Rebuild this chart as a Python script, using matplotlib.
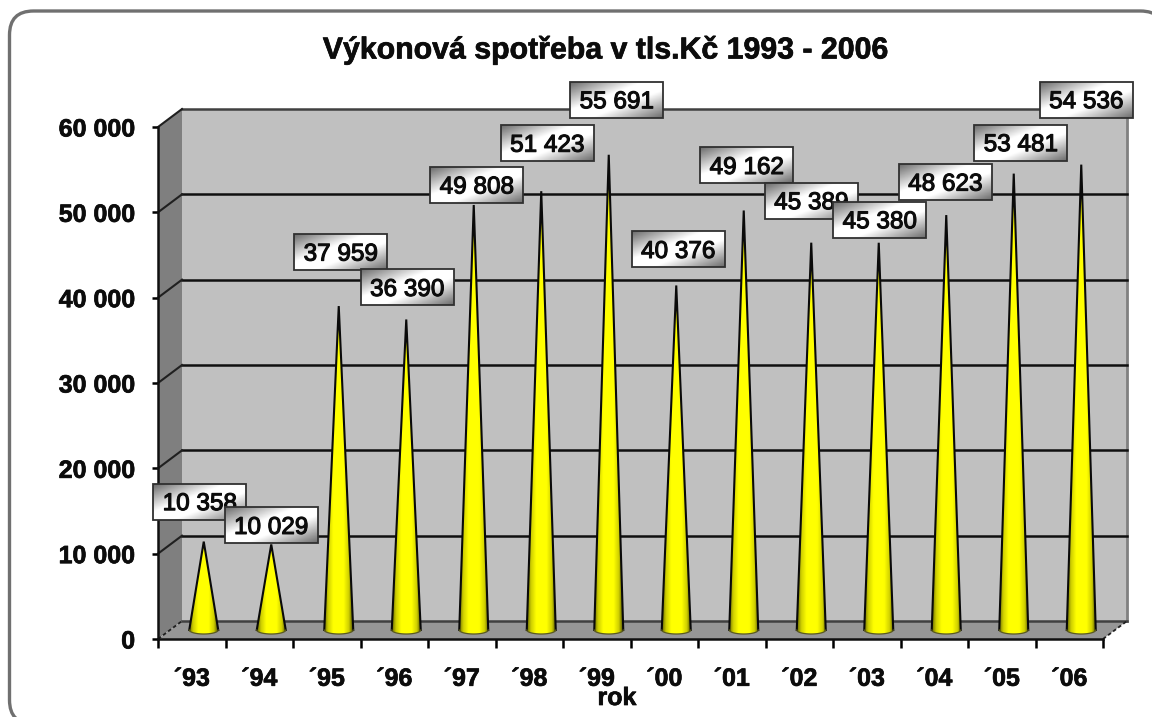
import numpy as np
import matplotlib
matplotlib.use("Agg")
import matplotlib.pyplot as plt
from matplotlib.patches import Polygon, FancyBboxPatch, Rectangle
import matplotlib.patheffects as pe
from matplotlib.colors import to_rgb

years = ["´93", "´94", "´95", "´96", "´97", "´98", "´99", "´00", "´01", "´02", "´03", "´04", "´05", "´06"]
values = [10358, 10029, 37959, 36390, 49808, 51423, 55691, 40376, 49162, 45389, 45380, 48623, 53481, 54536]
value_labels = ["10 358", "10 029", "37 959", "36 390", "49 808", "51 423", "55 691",
                "40 376", "49 162", "45 389", "45 380", "48 623", "53 481", "54 536"]
y_ticks = [0, 10000, 20000, 30000, 40000, 50000, 60000]
y_labels = ["0", "10 000", "20 000", "30 000", "40 000", "50 000", "60 000"]

# where each label box sits relative to the cone tip, in pixels
label_dx = [-4, 0, 2, 1, 3, 6, 8, 2, 3, 0, 1, -1, 7, 5]
label_dy = [40, 19, 54, 32, 20, 48, 55, 36, 45, 42, 23, 33, 31, 65]

W, H = 1152, 717
left, right, top, bottom = 158, 1103, 127, 639
font = "Liberation Sans"
ink = "#0c0c0c"
bold_edge = [pe.withStroke(linewidth=0.5, foreground=ink)]

fig = plt.figure(figsize=(W / 100, H / 100), dpi=100, facecolor="white")

# rounded frame round the whole chart, runs off the right and bottom edge
bg = fig.add_axes([0, 0, 1, 1])
bg.set_xlim(0, W)
bg.set_ylim(H, 0)
bg.axis("off")
bg.add_patch(FancyBboxPatch((9.5, 11), 1155, 713, boxstyle="round,pad=0,rounding_size=24",
                            fc="white", ec="#707070", lw=2.4))

ax = fig.add_axes([left / W, 1 - bottom / H, (right - left) / W, (bottom - top) / H])
ax.patch.set_alpha(0)
xlim = (0, len(years))
ylim = (0, 60000)
px_x = (right - left) / len(years)
px_y = (bottom - top) / 60000
dx = 24 / px_x  # depth of the 3d box
dy = 18 / px_y

# walls and floor
ax.add_patch(Polygon([(dx, dy), (xlim[1] + dx, dy), (xlim[1] + dx, 60000 + dy), (dx, 60000 + dy)],
                     fc="#c0c0c0", ec="none", zorder=1, clip_on=False))
ax.add_patch(Polygon([(0, 0), (dx, dy), (dx, 60000 + dy), (0, 60000)],
                     fc="#7f7f7f", ec="none", zorder=1, clip_on=False))
ax.add_patch(Polygon([(0, 0), (xlim[1], 0), (xlim[1] + dx, dy), (dx, dy)],
                     fc="#969696", ec="none", zorder=1, clip_on=False))
ax.plot([xlim[1] + dx, xlim[1] + dx], [dy, 60000 + dy], color="#808080", lw=2, zorder=2, clip_on=False)

for t in y_ticks:
    col = "#404040" if t in (0, 60000) else "#101010"
    ax.plot([dx, xlim[1] + dx], [t + dy, t + dy], color=col, lw=1.8, zorder=2, clip_on=False)
    if t == 0:
        ax.plot([0, dx], [t, t + dy], color="#202020", lw=1.3, ls=(0, (2, 1.5)), zorder=2, clip_on=False)
        ax.plot([xlim[1], xlim[1] + dx], [t, t + dy], color="#202020", lw=1.3, ls=(0, (2, 1.5)), zorder=2, clip_on=False)
    else:
        ax.plot([0, dx], [t, t + dy], color="#202020", lw=1.5, zorder=2, clip_on=False)

# shading across a cone, edge to edge
stops = np.array([0, 0.14, 0.32, 0.68, 0.86, 1])
r = np.array([to_rgb(c) for c in ["#6e6e00", "#d0d000", "#ffff00", "#ffff00", "#d0d000", "#5c5c00"]])
u = np.linspace(0, 1, 64)
grad = np.stack([np.interp(u, stops, r[:, k]) for k in range(3)], axis=1)[None, :, :]

half_w = 14.5 / px_x
half_h = 4.0 / px_y
base_y = dy / 2
t = np.linspace(np.pi, 2 * np.pi, 40)
for i, v in enumerate(values):
    cx = i + 0.5 + dx / 2
    tip_y = base_y + v
    arc_x = cx + half_w * np.cos(t)
    arc_y = base_y + half_h * np.sin(t)
    outline = np.c_[np.r_[cx, arc_x], np.r_[tip_y, arc_y]]
    im = ax.imshow(grad, extent=(cx - half_w, cx + half_w, base_y - half_h, tip_y),
                   aspect="auto", zorder=3, interpolation="bilinear")
    cone = Polygon(outline, closed=True, fc="none", ec="none", zorder=3, clip_on=False)
    ax.add_patch(cone)
    im.set_clip_path(cone)
    # sides heavy, base lighter
    ax.plot([arc_x[0], cx, arc_x[-1]], [arc_y[0], tip_y, arc_y[-1]], color="#0a0a0a", lw=1.5,
            zorder=3.1, clip_on=False, solid_joinstyle="miter")
    ax.plot(arc_x, arc_y, color="#5a5a20", lw=0.9, zorder=3.1, clip_on=False)

# value labels, grey in two opposite corners with a white band between
n = 60
uu, vv = np.meshgrid(np.linspace(0, 1, n), np.linspace(0, 1, n))
d = np.abs(uu + vv - 1)
box_fill = 1 - np.clip(d - 0.22, 0, 1) / 0.78 * 0.58
box_w = 93 / px_x
box_h = 36 / px_y
for i, v in enumerate(values):
    cx = i + 0.5 + dx / 2 + label_dx[i] / px_x
    cy = base_y + v + label_dy[i] / px_y
    z = 5 + i * 0.1
    ext = (cx - box_w / 2, cx + box_w / 2, cy - box_h / 2, cy + box_h / 2)
    ax.imshow(box_fill, extent=ext, cmap="gray", vmin=0, vmax=1, aspect="auto", zorder=z,
              clip_on=False, origin="upper", interpolation="bilinear")
    ax.add_patch(Rectangle((ext[0], ext[2]), box_w, box_h, fc="none", ec="#303030", lw=1.3, zorder=z + 0.01, clip_on=False))
    ax.text(cx, cy, value_labels[i], ha="center", va="center_baseline", fontsize=17.5, family=font, color=ink,
            zorder=z + 0.02, path_effects=[pe.withStroke(linewidth=0.8, foreground=ink)])

ax.set_xlim(*xlim)
ax.set_ylim(*ylim)
for s in ("top", "right"):
    ax.spines[s].set_visible(False)
for s in ("left", "bottom"):
    ax.spines[s].set_linewidth(1.8)
    ax.spines[s].set_color("#101010")
    ax.spines[s].set_zorder(4)

ax.set_yticks(y_ticks)
ax.set_yticklabels(y_labels, fontsize=18, family=font, fontweight="bold", color=ink, path_effects=bold_edge)
ax.tick_params(axis="y", length=4.5, width=1.8, pad=12)
ax.set_xticks(np.arange(len(years) + 1))
ax.set_xticklabels([])
ax.set_xticks(np.arange(len(years)) + 0.5, minor=True)
ax.set_xticklabels(years, minor=True, fontsize=18, family=font, fontweight="bold", color=ink, path_effects=bold_edge)
ax.tick_params(axis="x", which="major", length=6.5, width=1.8)
ax.tick_params(axis="x", which="minor", length=0, pad=20)

fig.text(605 / W, 1 - 50 / H, "Výkonová spotřeba v tls.Kč 1993 - 2006", ha="center", va="center",
         fontsize=21.8, family=font, fontweight="bold", color=ink, path_effects=bold_edge)
fig.text(617 / W, 1 - 698 / H, "rok", ha="center", va="center",
         fontsize=18, family=font, fontweight="bold", color=ink, path_effects=bold_edge)

fig.savefig("out.png", dpi=100)
